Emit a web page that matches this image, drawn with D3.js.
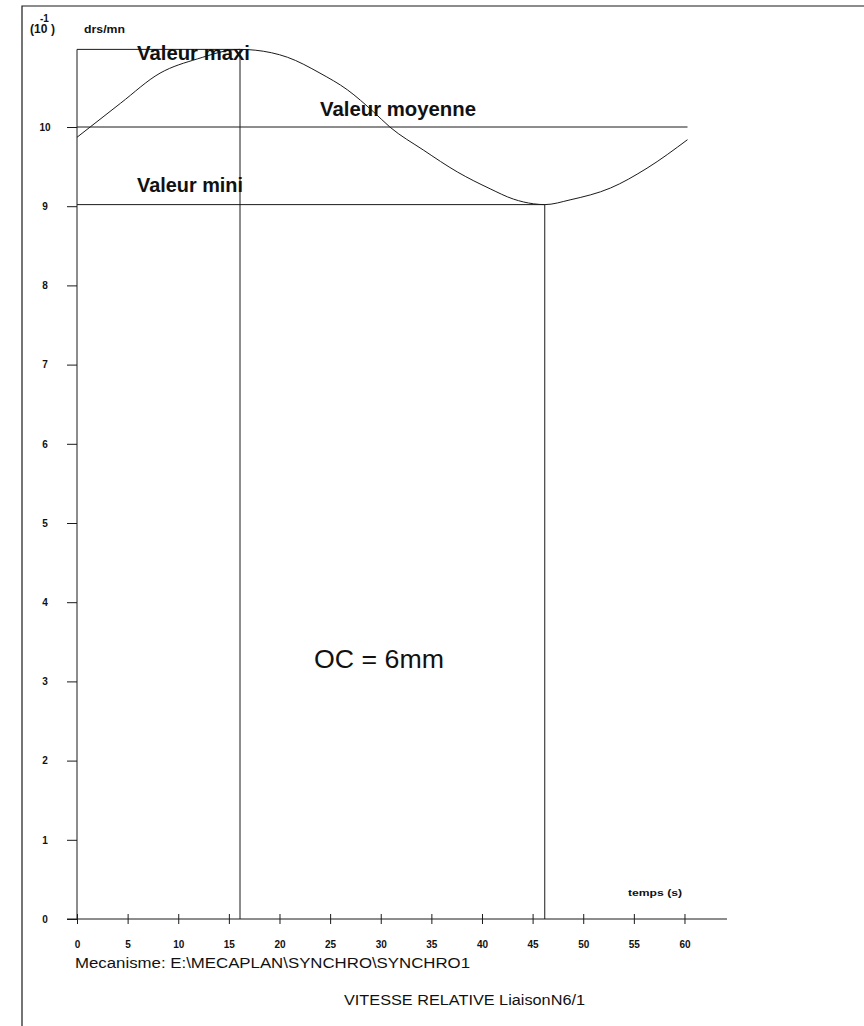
<!DOCTYPE html>
<meta charset="utf-8">
<head>
	<title>Vitesse relative</title>
</head>
<style>
	body { margin: 0; background: #fff; }
	svg text { font-family: "Liberation Sans", Arial, sans-serif; fill: #111; }
</style>
<body>
	<svg width="864" height="1026"></svg>
	<script src="https://cdnjs.cloudflare.com/ajax/libs/d3/7.8.5/d3.min.js"></script>
	<script>

		// curve: time (s) / speed (10^-1 drs/mn)
		var temps   = [0, 1.3, 4.3, 8.2, 11.9, 16.1, 17.6, 20.8, 24.0, 26.7, 29.3, 30.9, 34.2, 37.6, 40.8, 43.1, 45.1, 46.2, 48.7, 52.7, 56.3, 60.3];
		var vitesse = [9.87, 10.0, 10.30, 10.68, 10.86, 10.98, 10.97, 10.88, 10.68, 10.47, 10.19, 10.0, 9.71, 9.43, 9.22, 9.09, 9.03, 9.02, 9.08, 9.23, 9.48, 9.84];

		var xTicks = [0, 5, 10, 15, 20, 25, 30, 35, 40, 45, 50, 55, 60];
		var yTicks = [0, 1, 2, 3, 4, 5, 6, 7, 8, 9, 10];

		var valeurMaxi = 10.98, tMaxi = 16.1;
		var valeurMini = 9.02,  tMini = 46.2;
		var valeurMoyenne = 10.0, tFin = 60.3;

		var svg = d3.select("svg");

		var x = d3.scaleLinear().domain([0, 64.2]).range([77, 727]);
		var y = d3.scaleLinear().domain([0, 11]).range([919, 47.8]);

		var ink = "#1a1a1a";

		// page frame (left and top edges)
		svg.append("path")
			.attr("d", "M22,1026V6H864")
			.attr("fill", "none")
			.attr("stroke", ink)
			.attr("stroke-width", 1.2);

		// y axis
		var yAxis = d3.axisLeft(y).tickValues(yTicks).tickSize(10).tickPadding(22);
		var gy = svg.append("g").attr("transform", "translate(" + x(0) + ",0)").call(yAxis);
		gy.select(".domain").remove();
		gy.selectAll("line").attr("stroke", ink);
		gy.selectAll("text")
			.attr("text-anchor", "middle")
			.attr("dx", "0")
			.style("font-size", "10px")
			.style("font-weight", "bold");
		svg.append("line")
			.attr("x1", x(0)).attr("x2", x(0))
			.attr("y1", y(0)).attr("y2", y(valeurMaxi))
			.attr("stroke", ink);

		// x axis with crossing ticks
		var xAxis = d3.axisBottom(x).tickValues(xTicks).tickSize(5).tickPadding(17);
		var gx = svg.append("g").attr("transform", "translate(0," + y(0) + ")").call(xAxis);
		gx.select(".domain").remove();
		gx.selectAll(".tick line").attr("y1", -5).attr("stroke", ink);
		gx.selectAll("text")
			.style("font-size", "10px")
			.style("font-weight", "bold");
		svg.append("line")
			.attr("x1", x(0) - 10).attr("x2", x(64.2))
			.attr("y1", y(0)).attr("y2", y(0))
			.attr("stroke", ink);

		// reference lines: maxi, moyenne, mini
		svg.append("line")
			.attr("x1", x(0)).attr("x2", x(tMaxi))
			.attr("y1", y(valeurMaxi)).attr("y2", y(valeurMaxi))
			.attr("stroke", ink);
		svg.append("line")
			.attr("x1", x(0)).attr("x2", x(tFin))
			.attr("y1", y(valeurMoyenne)).attr("y2", y(valeurMoyenne))
			.attr("stroke", ink);
		svg.append("line")
			.attr("x1", x(0)).attr("x2", x(tMini))
			.attr("y1", y(valeurMini)).attr("y2", y(valeurMini))
			.attr("stroke", ink);

		// verticals at maxi and mini
		svg.append("line")
			.attr("x1", x(tMaxi)).attr("x2", x(tMaxi))
			.attr("y1", y(valeurMaxi)).attr("y2", y(0))
			.attr("stroke", ink);
		svg.append("line")
			.attr("x1", x(tMini)).attr("x2", x(tMini))
			.attr("y1", y(valeurMini)).attr("y2", y(0))
			.attr("stroke", ink);

		// speed curve
		var data = temps.map(function(t, i) { return {t: t, v: vitesse[i]}; });
		var line = d3.line()
			.x(function(d) { return x(d.t); })
			.y(function(d) { return y(d.v); })
			.curve(d3.curveMonotoneX);
		svg.append("path")
			.datum(data)
			.attr("d", line)
			.attr("fill", "none")
			.attr("stroke", ink)
			.attr("stroke-width", 1);

		// labels
		function label(txt, px, py, size, weight, len) {
			var t = svg.append("text")
				.attr("x", px).attr("y", py)
				.style("font-size", size + "px")
				.style("font-weight", weight || "normal")
				.text(txt);
			if (len) t.attr("textLength", len).attr("lengthAdjust", "spacingAndGlyphs");
			return t;
		}

		label("Valeur maxi", 137, 60, 20, "bold", 113);
		label("Valeur moyenne", 320, 116, 20, "bold", 156);
		label("Valeur mini", 137, 192, 20, "bold", 106);
		label("OC = 6mm", 314, 668, 26, "normal", 130);

		label("(10", 30, 33, 12, "bold");
		label("-1", 40, 22, 10, "bold");
		label(")", 51, 33, 12, "bold");
		label("drs/mn", 84, 33, 10, "bold", 41);
		label("temps (s)", 628, 896, 9, "bold", 54);

		label("Mecanisme: E:\\MECAPLAN\\SYNCHRO\\SYNCHRO1", 75, 968, 14, "normal", 395);
		label("VITESSE  RELATIVE  LiaisonN6/1", 344, 1005, 14, "normal", 241);

	</script>
</body>
</html>
